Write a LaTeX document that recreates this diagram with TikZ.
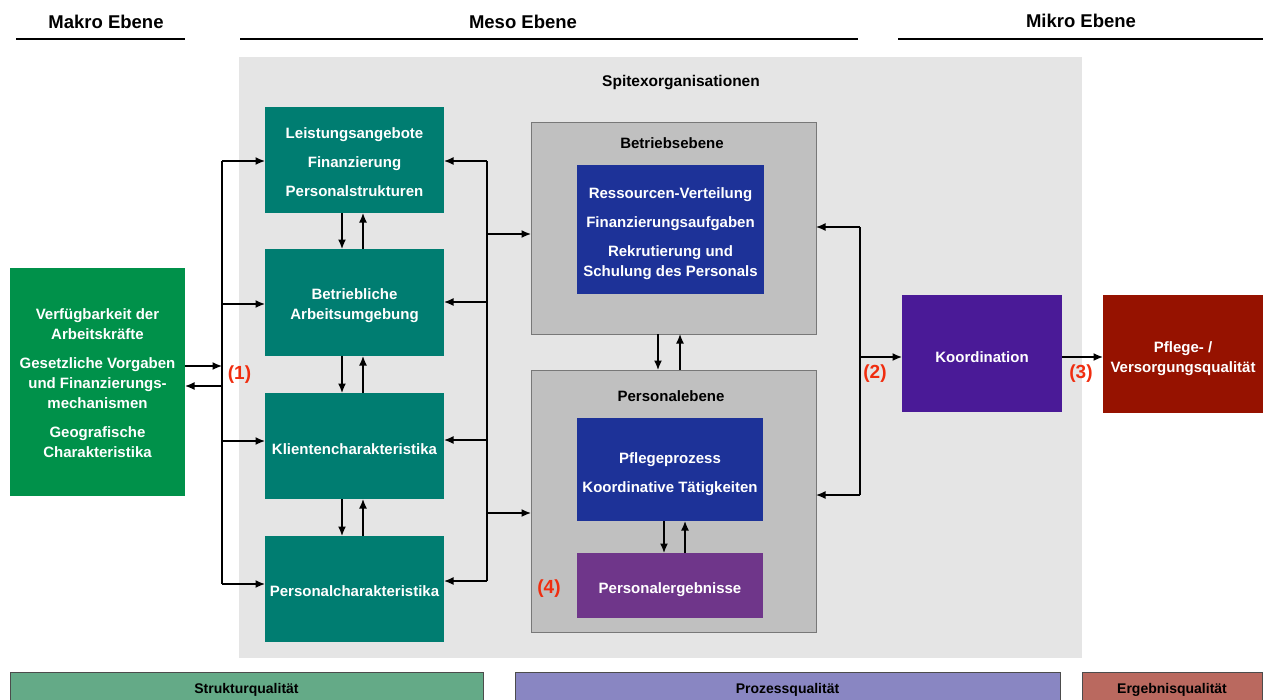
\documentclass[tikz,border=0pt]{standalone}
\usepackage{fontspec}
\setmainfont{Liberation Sans}
\usetikzlibrary{arrows.meta}

\definecolor{tealbox}{RGB}{0,125,113}
\definecolor{greenbox}{RGB}{0,145,74}
\definecolor{bluebox}{RGB}{29,50,152}
\definecolor{purplebox}{RGB}{111,54,138}
\definecolor{koordbox}{RGB}{74,26,151}
\definecolor{redbox}{RGB}{150,18,0}
\definecolor{levelgrey}{RGB}{192,192,192}
\definecolor{levelborder}{RGB}{120,120,120}
\definecolor{orgbg}{RGB}{229,229,229}
\definecolor{marker}{RGB}{240,45,15}
\definecolor{strukturfill}{RGB}{100,170,135}
\definecolor{prozessfill}{RGB}{137,134,194}
\definecolor{ergebnisfill}{RGB}{186,105,95}

\newcommand\bodyfont{\fontsize{15}{20}\selectfont\bfseries}
\newcommand\headfont{\fontsize{18.5}{22}\selectfont\bfseries}

\begin{document}
\begin{tikzpicture}[x=1pt,y=-1pt,
  box/.style={inner sep=0pt, outer sep=0pt},
  boxtext/.style={inner sep=0pt, align=center, text=white, font=\bodyfont},
  levelbox/.style={inner sep=0pt, outer sep=0pt, fill=levelgrey, draw=levelborder, line width=1pt},
  lbl/.style={inner sep=0pt, font=\bodyfont, text=black},
  head/.style={inner sep=0pt, font=\headfont, text=black},
  headline/.style={line width=1.6pt},
  num/.style={inner sep=0pt, font=\fontsize{19}{22}\selectfont\bfseries, text=marker},
  arr/.style={line width=1.4pt, -{Latex[length=9.5pt,width=8pt]}},
  bus/.style={line width=1.4pt},
  quality/.style={inner sep=0pt, outer sep=0pt, draw=black!70, line width=1pt},
  qualitytext/.style={inner sep=0pt, font=\fontsize{14}{16}\selectfont\bfseries, text=black}
]
\useasboundingbox (0,0) rectangle (1263,699);
\clip (0,0) rectangle (1263,699);

% headings of the three levels
\node[head] (makro) at (106,22) {Makro Ebene};
\node[head] (meso)  at (523,22) {Meso Ebene};
\node[head] (mikro) at (1081,20.5) {Mikro Ebene};
\coordinate (makroL) at (16,39);  \coordinate (makroR) at (185,39);
\coordinate (mesoL)  at (240,39); \coordinate (mesoR)  at (858,39);
\coordinate (mikroL) at (898,39); \coordinate (mikroR) at (1263,39);
\draw[headline] (makroL) -- (makroR);
\draw[headline] (mesoL) -- (mesoR);
\draw[headline] (mikroL) -- (mikroR);

% organisation background
\node[fill=orgbg, inner sep=0pt, outer sep=0pt, minimum width=843, minimum height=601] (org) at (660.5,357.5) {};
\node[lbl, font=\fontsize{15.5}{20}\selectfont\bfseries] (orglbl) at (681,83) {Spitexorganisationen};

% macro factors
\node[box, fill=greenbox, minimum width=175, minimum height=228] (macro) at (97.5,382) {};
\node[boxtext] (macrotxt) at ([yshift=-1pt]macro.center)
  {Verfügbarkeit der\\Arbeitskräfte\\[9pt]Gesetzliche Vorgaben\\und Finanzierungs-\\mechanismen\\[9pt]Geografische\\Charakteristika};

% structural boxes
\node[box, fill=tealbox, minimum width=179, minimum height=106] (t1) at (354.5,160) {};
\node[box, fill=tealbox, minimum width=179, minimum height=107] (t2) at (354.5,302.5) {};
\node[box, fill=tealbox, minimum width=179, minimum height=106] (t3) at (354.5,446) {};
\node[box, fill=tealbox, minimum width=179, minimum height=106] (t4) at (354.5,589) {};
\node[boxtext] (t1txt) at ([yshift=-2pt]t1.center) {Leistungsangebote\\[9pt]Finanzierung\\[9pt]Personalstrukturen};
\node[boxtext] (t2txt) at ([yshift=-3pt]t2.center) {Betriebliche\\Arbeitsumgebung};
\node[boxtext] (t3txt) at ([yshift=-3pt]t3.center) {Klientencharakteristika};
\node[boxtext] (t4txt) at ([yshift=-2pt]t4.center) {Personalcharakteristika};

% operational level
\node[levelbox, minimum width=285, minimum height=212] (betrieb) at (673.5,228) {};
\node[lbl] (betriebl) at (672,143) {Betriebsebene};
\node[box, fill=bluebox, minimum width=187, minimum height=129] (b1) at (670.5,229.5) {};
\node[boxtext] (b1txt) at ([yshift=-4pt]b1.center)
  {Ressourcen-Verteilung\\[9pt]Finanzierungsaufgaben\\[9pt]Rekrutierung und\\Schulung des Personals};

% staff level
\node[levelbox, minimum width=285, minimum height=262] (personal) at (673.5,501) {};
\node[lbl] (personall) at (671,396) {Personalebene};
\node[box, fill=bluebox, minimum width=186, minimum height=103] (b2) at (670,469.5) {};
\node[boxtext] (b2txt) at ([yshift=-4.5pt]b2.center) {Pflegeprozess\\[9pt]Koordinative Tätigkeiten};
\node[box, fill=purplebox, minimum width=186, minimum height=65] (pe) at (670,585.5) {};
\node[boxtext] (petxt) at ([yshift=-4pt]pe.center) {Personalergebnisse};

% micro level
\node[box, fill=koordbox, minimum width=160, minimum height=117] (koord) at (982,353.5) {};
\node[boxtext] (koordtxt) at ([yshift=-4pt]koord.center) {Koordination};
\node[box, fill=redbox, minimum width=160, minimum height=118] (pflege) at (1183,354) {};
\node[boxtext] (pflegetxt) at ([yshift=-4.5pt]pflege.center) {Pflege- /\\Versorgungsqualität};

% quality bands
\node[quality, fill=strukturfill, minimum width=473, minimum height=40] (struktur) at (246.5,692) {};
\node[quality, fill=prozessfill, minimum width=545, minimum height=40] (prozess) at (787.5,692) {};
\node[quality, fill=ergebnisfill, minimum width=180, minimum height=40] (ergebnis) at (1172,692) {};
\node[qualitytext] (strukturl) at (246.5,689.5) {Strukturqualität};
\node[qualitytext] (prozessl) at (787.5,689.5) {Prozessqualität};
\node[qualitytext] (ergebnisl) at (1172,689.5) {Ergebnisqualität};

% left bus between macro factors and structure boxes
\coordinate (lb1) at (222,161);
\coordinate (lb2) at (222,304);
\coordinate (lb3) at (222,441);
\coordinate (lb4) at (222,584);
\coordinate (lbin) at (222,366);
\coordinate (lbout) at (222,386);
\draw[bus] (lb1) -- (lb4);
\draw[arr] (lb1) -- (lb1 -| t1.west);
\draw[arr] (lb2) -- (lb2 -| t2.west);
\draw[arr] (lb3) -- (lb3 -| t3.west);
\draw[arr] (lb4) -- (lb4 -| t4.west);
\draw[arr] (lbin -| macro.east) -- (lbin);
\draw[arr] (lbout) -- (lbout -| macro.east);

% arrows between the structure boxes
\foreach \a/\b in {t1/t2, t2/t3, t3/t4}{
  \draw[arr] ([xshift=-12.5pt]\a.south) -- ([xshift=-12.5pt]\b.north);
  \draw[arr] ([xshift=8.5pt]\b.north) -- ([xshift=8.5pt]\a.south);
}

% middle bus between structure boxes and levels
\coordinate (rb1) at (487,161);
\coordinate (rb2) at (487,302);
\coordinate (rb3) at (487,440);
\coordinate (rb4) at (487,581);
\coordinate (rbB) at (487,234);
\coordinate (rbP) at (487,513);
\draw[bus] (rb1) -- (rb4);
\draw[arr] (rb1) -- (rb1 -| t1.east);
\draw[arr] (rb2) -- (rb2 -| t2.east);
\draw[arr] (rb3) -- (rb3 -| t3.east);
\draw[arr] (rb4) -- (rb4 -| t4.east);
\draw[arr] (rbB) -- (rbB -| betrieb.west);
\draw[arr] (rbP) -- (rbP -| personal.west);

% arrows between the two levels
\draw[arr] ([xshift=-15.5pt]betrieb.south) -- ([xshift=-15.5pt]personal.north);
\draw[arr] ([xshift=6.5pt]personal.north) -- ([xshift=6.5pt]betrieb.south);
\draw[arr] ([xshift=-6pt]b2.south) -- ([xshift=-6pt]pe.north);
\draw[arr] ([xshift=15pt]pe.north) -- ([xshift=15pt]b2.south);

% right bus towards coordination
\coordinate (kbB) at (860,227);
\coordinate (kbP) at (860,495);
\coordinate (kbK) at (860,357);
\draw[bus] (kbB) -- (kbP);
\draw[arr] (kbB) -- (kbB -| betrieb.east);
\draw[arr] (kbP) -- (kbP -| personal.east);
\draw[arr] (kbK) -- (kbK -| koord.west);
\draw[arr] (kbK -| koord.east) -- (kbK -| pflege.west);

% path markers
\node[num] (n1) at (239.5,375) {(1)};
\node[num] (n2) at (875,374) {(2)};
\node[num] (n3) at (1081,374) {(3)};
\node[num] (n4) at (549,589) {(4)};

\end{tikzpicture}
\end{document}
